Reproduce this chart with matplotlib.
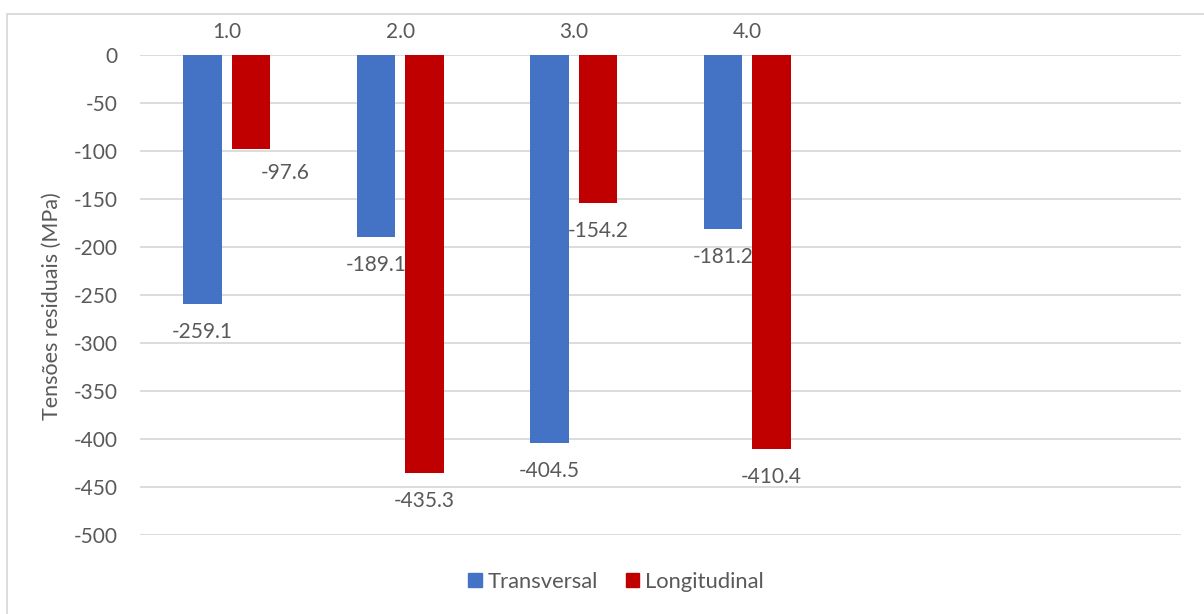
#!/usr/bin/python
import matplotlib
matplotlib.use("Agg")
import matplotlib.pyplot as plt
from matplotlib.patches import Rectangle, Patch
import numpy as np

# residual stress per sample (MPa)
categories = ["1.0", "2.0", "3.0", "4.0", "", ""]
transversal = [-259.1, -189.1, -404.5, -181.2]
longitudinal = [-97.6, -435.3, -154.2, -410.4]
series_names = ["Transversal", "Longitudinal"]
yticks = [0, -50, -100, -150, -200, -250, -300, -350, -400, -450, -500]

BLUE = "#4472C4"
RED = "#C00000"
GREY = "#595959"
GRID = "#D9D9D9"

def generate_plot(out_path):
    plt.rcParams['font.family'] = ['Lato', 'DejaVu Sans']
    fig = plt.figure(figsize=(12.04, 6.14), dpi=100)
    ax = fig.add_axes([140/1204, 1-535/614, 1041/1204, 480/614])

    n = len(transversal)
    x = np.arange(n)
    width = 0.222
    off = 0.14
    b1 = ax.bar(x - off, transversal, width, color=BLUE, zorder=2)
    b2 = ax.bar(x + off, longitudinal, width, color=RED, zorder=2)

    # value labels under the bar ends (first longitudinal one nudged right)
    nudges = {(1, 0): (34, 4)}
    for s, bars in enumerate([b1, b2]):
        for i, rect in enumerate(bars):
            v = rect.get_height()
            dx, dy = nudges.get((s, i), (0, 0))
            ax.annotate("%.1f" % v, (rect.get_x() + rect.get_width()/2, v),
                        xytext=(dx, -28 + dy), textcoords="offset pixels",
                        ha="center", va="center", fontsize=15, color=GREY)

    ax.set_xlim(-0.5, len(categories) - 0.5)
    ax.set_ylim(-500, 0)
    ax.set_yticks(yticks)
    ax.set_yticklabels([str(t) for t in yticks])
    ax.yaxis.grid(True, color=GRID, linewidth=1.3, zorder=0)
    ax.set_axisbelow(True)

    ax.set_xticks(np.arange(len(categories)))
    ax.set_xticklabels(categories)
    ax.xaxis.tick_top()
    ax.tick_params(axis="x", length=0, pad=9, labelsize=15, labelcolor=GREY)
    ax.tick_params(axis="y", length=0, pad=16, labelsize=15, labelcolor=GREY)
    for sp in ax.spines.values():
        sp.set_visible(False)

    fig.text(52/1204, 1-306/614, "Tensões residuais (MPa)", rotation=90,
             ha="center", va="center", fontsize=15.5, color=GREY)

    handles = [Patch(color=BLUE), Patch(color=RED)]
    fig.legend(handles, series_names, loc="center", bbox_to_anchor=(616/1204, 1-582/614),
               ncol=2, frameon=False, fontsize=15.8, labelcolor=GREY,
               handlelength=0.62, handleheight=0.62, handletextpad=0.28,
               columnspacing=1.25, borderpad=0.2)

    # chart area border
    fig.patches.append(Rectangle((7/1204, -0.1), 1.2, 1.1 - 14/614, fill=False,
                                 edgecolor=GRID, linewidth=1.3,
                                 transform=fig.transFigure, figure=fig))

    fig.savefig(out_path, dpi=100, facecolor="white")

def main():
    generate_plot("out.png")

if __name__ == "__main__":
    main()
